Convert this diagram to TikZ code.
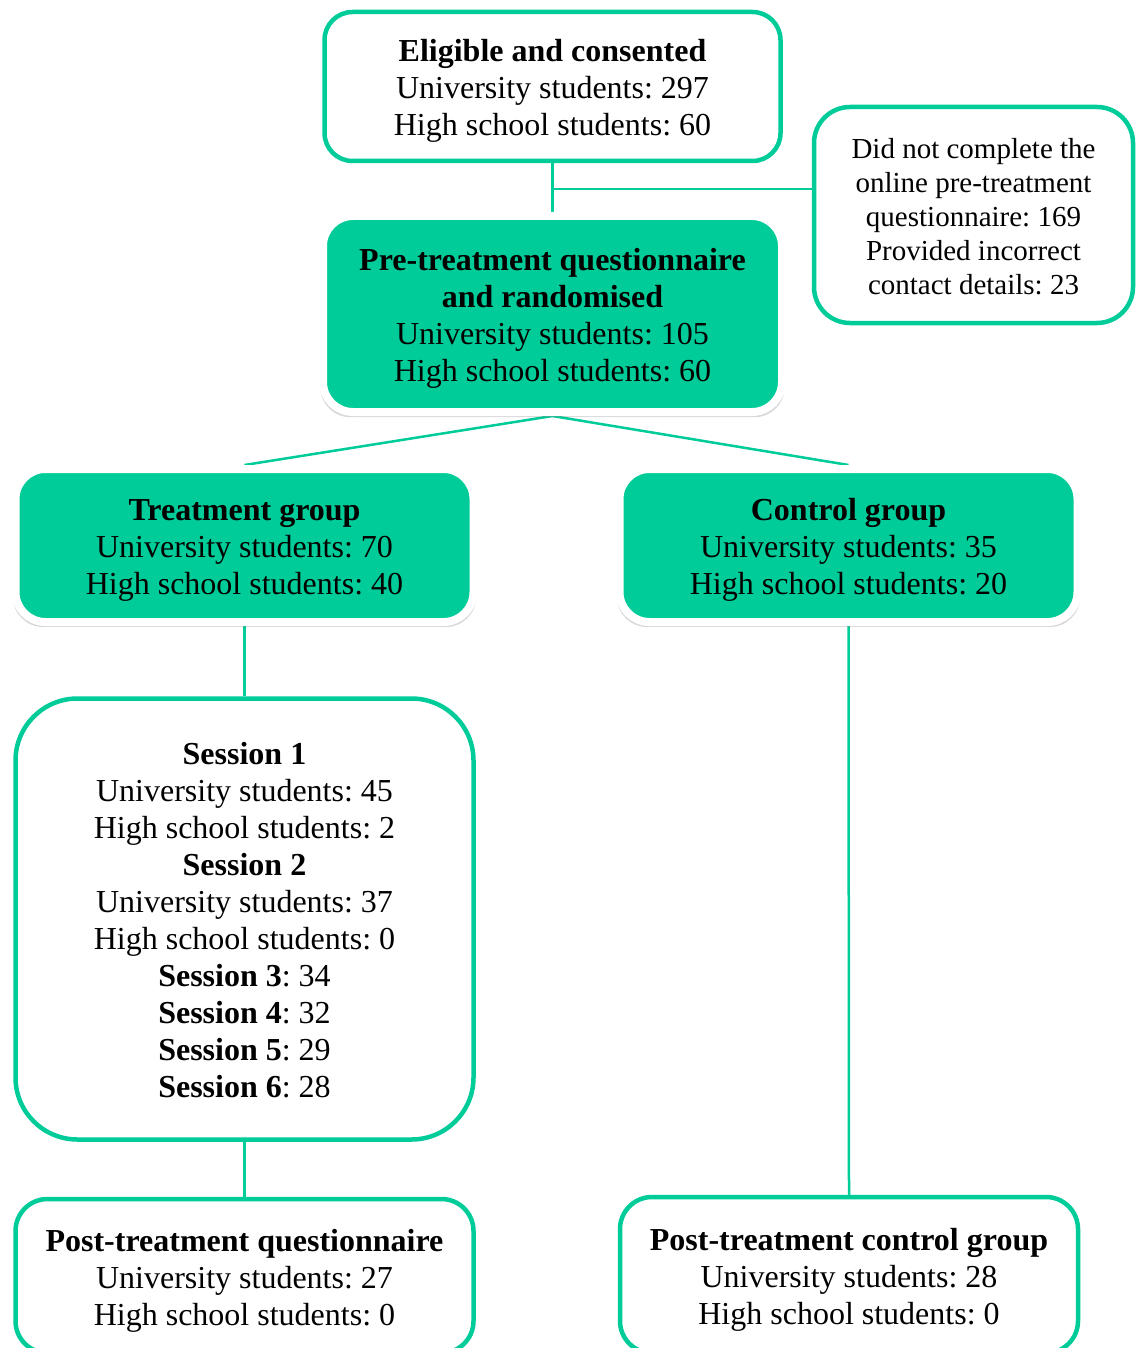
\documentclass[tikz,border=0pt]{standalone}
\usepackage{fontspec}
\setmainfont{Liberation Serif}
\frenchspacing
\usetikzlibrary{shadows,backgrounds}
\definecolor{grn}{HTML}{00CC99}
\newcommand\boxlines[1]{\raisebox{-4.7pt}[\height][\depth]{\begin{tabular}{@{}c@{}}#1\end{tabular}}}
\begin{document}
\begin{tikzpicture}[x=1pt,y=-1pt,
  txt/.style={font=\fontsize{32}{37}\selectfont, inner sep=0pt, text=black},
  outbox/.style={txt, draw=grn, line width=4.5pt, rounded corners=28pt, fill=white},
  fillbox/.style={txt, draw=white, line width=8pt, fill=grn, rounded corners=30pt,
    drop shadow={shadow xshift=0pt, shadow yshift=-4pt, shadow scale=1.012, fill=black!70, opacity=0.22}},
  link/.style={draw=grn, line width=2.5pt}]
\useasboundingbox (0,0) rectangle (1137,1348);

\node[outbox, minimum width=456pt, minimum height=149pt] (elig) at (552.5,86.5)
  {\boxlines{\textbf{Eligible and consented}\\University students: 297\\High school students: 60}};

\node[outbox, font=\fontsize{29}{34}\selectfont, rounded corners=36pt,
  minimum width=319pt, minimum height=216pt] (dnc) at (973.5,215)
  {\boxlines{Did not complete the\\online pre-treatment\\questionnaire: 169\\Provided incorrect\\contact details: 23}};

\node[fillbox, minimum width=459pt, minimum height=196pt] (pre) at (552.5,314)
  {\boxlines{\textbf{Pre-treatment questionnaire}\\\textbf{and randomised}\\University students: 105\\High school students: 60}};

\node[fillbox, minimum width=458pt, minimum height=153pt] (treat) at (244.5,545.5)
  {\boxlines{\textbf{Treatment group}\\University students: 70\\High school students: 40}};

\node[fillbox, minimum width=458pt, minimum height=153pt] (ctrl) at (848.5,545.5)
  {\boxlines{\textbf{Control group}\\University students: 35\\High school students: 20}};

\node[outbox, rounded corners=62pt, minimum width=458pt, minimum height=441pt] (sess) at (244.5,919)
  {\boxlines{\textbf{Session 1}\\University students: 45\\High school students: 2\\
   \textbf{Session 2}\\University students: 37\\High school students: 0\\
   \textbf{Session 3}: 34\\\textbf{Session 4}: 32\\\textbf{Session 5}: 29\\\textbf{Session 6}: 28}};

\node[outbox, rounded corners=32pt, minimum width=458pt, minimum height=154pt] (post1) at (244.5,1276)
  {\boxlines{\textbf{Post-treatment questionnaire}\\University students: 27\\High school students: 0}};

\node[outbox, rounded corners=32pt, minimum width=458pt, minimum height=156pt] (post2) at (849,1275)
  {\boxlines{\textbf{Post-treatment control group}\\University students: 28\\High school students: 0}};

\begin{scope}[on background layer]
  \fill[white] (0,0) rectangle (1137,1348);
  \coordinate (j) at (552.5,189);
  \draw[link] (elig.south) -- (pre.north);
  \draw[link] (j) -- (j -| dnc.west);
  \draw[link] (pre.south) -- (treat.north);
  \draw[link] (pre.south) -- (ctrl.north);
  \draw[link] (treat.south) -- (sess.north);
  \draw[link] (sess.south) -- (post1.north);
  \draw[link] (ctrl.south) -- (post2.north);
\end{scope}
\end{tikzpicture}
\end{document}
